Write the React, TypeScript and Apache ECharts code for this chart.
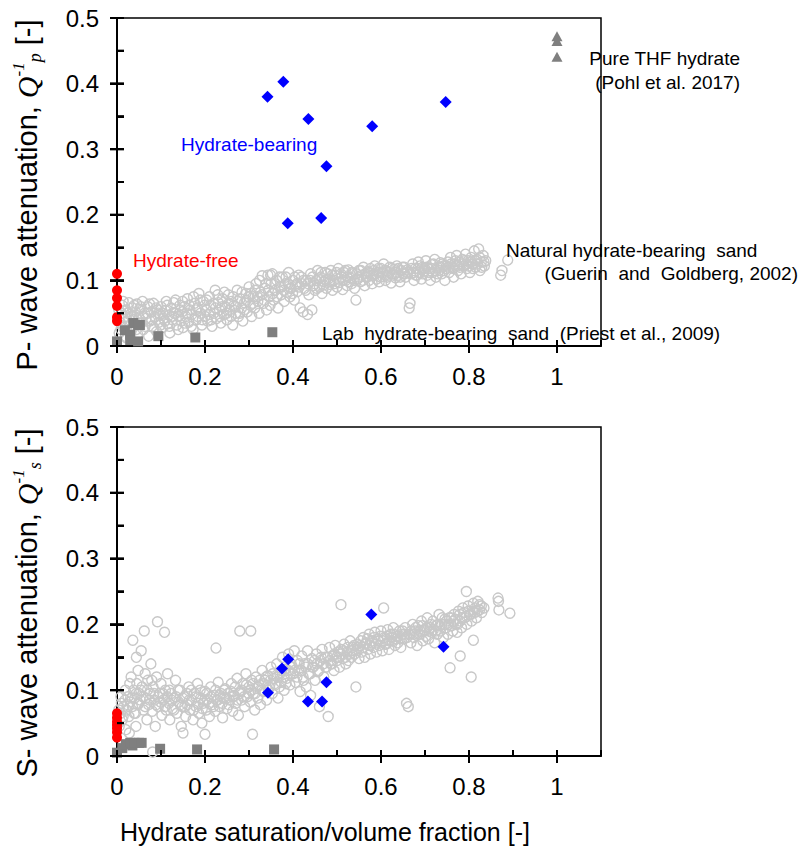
import React, { useEffect, useRef } from 'react';
import * as echarts from 'echarts';

const SANS = 'Liberation Sans, Arial, sans-serif';
const SERIF = 'Liberation Serif, Times New Roman, serif';

// axis settings
const xMin = 0;
const xMax = 1.1;
const yMin = 0;
const yMax = 0.5;
const xMajorTicks = [0, 0.2, 0.4, 0.6, 0.8, 1.0];
const xMinorTicks = [0.1, 0.3, 0.5, 0.7, 0.9];
const yMajorTicks = [0, 0.1, 0.2, 0.3, 0.4, 0.5];
const yMinorTicks = [0.05, 0.15, 0.25, 0.35, 0.45];

// ---------- P-wave (top) ----------
const hydrateBearingP = [
  [0.342, 0.38], [0.378, 0.403], [0.435, 0.346], [0.58, 0.335], [0.747, 0.372],
  [0.476, 0.274], [0.388, 0.187], [0.464, 0.195],
];
const hydrateFreeP = [
  [0, 0.11], [0, 0.085], [0, 0.073], [0, 0.061], [0, 0.044], [0, 0.038],
];
const labP = [
  [0, 0.007], [0.018, 0.024], [0.037, 0.035], [0.048, 0.032], [0.03, 0.017],
  [0.048, 0.007], [0.052, 0.032], [0.03, 0.009], [0.094, 0.015], [0.178, 0.013], [0.353, 0.021],
];
const thfP = [[1.0, 0.465], [1.0, 0.472], [1.0, 0.441]];
const guerinPa = [
  [0.005,0.02],[0.008,0.035],[0.01,0.05],[0.012,0.062],[0.015,0.028],[0.018,0.045],[0.02,0.055],[0.022,0.012],[0.025,0.038],[0.027,0.066],[0.03,0.048],[0.032,0.022],[0.035,0.058],[0.037,0.04],[0.04,0.03],[0.042,0.052],[0.045,0.064],[0.047,0.018],[0.05,0.044],[0.052,0.056],
  [0.055,0.035],[0.058,0.068],[0.06,0.025],[0.063,0.05],[0.066,0.042],[0.07,0.06],[0.072,0.015],[0.075,0.038],[0.078,0.052],[0.08,0.03],[0.083,0.065],[0.086,0.045],[0.09,0.022],[0.092,0.055],[0.095,0.036],[0.098,0.048],[0.1,0.06],[0.103,0.028],[0.106,0.042],[0.11,0.054],[0.112,0.068],[0.115,0.034],[0.118,0.047],[0.12,0.02],[0.123,0.058],[0.126,0.04],[0.13,0.05],[0.133,0.07],[0.136,0.032],[0.14,0.045],[0.143,0.062],[0.146,0.038],[0.148,0.052],
  [0.15,0.028],[0.153,0.06],[0.156,0.045],[0.16,0.072],[0.163,0.036],[0.166,0.055],[0.17,0.048],[0.173,0.025],[0.176,0.065],[0.18,0.04],[0.183,0.058],[0.186,0.08],[0.19,0.05],[0.193,0.032],[0.196,0.068],[0.2,0.045],[0.203,0.055],[0.206,0.038],[0.21,0.075],[0.213,0.062],[0.216,0.03],[0.22,0.05],[0.223,0.085],[0.226,0.042],[0.23,0.066],[0.233,0.055],[0.236,0.035],[0.24,0.072],[0.243,0.048],[0.246,0.06],
  [0.25,0.04],[0.253,0.078],[0.256,0.055],[0.26,0.068],[0.263,0.032],[0.266,0.062],[0.27,0.05],[0.273,0.085],[0.276,0.045],[0.28,0.072],[0.283,0.058],[0.286,0.038],[0.29,0.066],[0.293,0.08],[0.296,0.052],[0.3,0.09],[0.303,0.062],[0.306,0.045],[0.31,0.075],[0.313,0.058],[0.316,0.095],[0.32,0.068],[0.323,0.05],[0.326,0.082],[0.33,0.107],[0.333,0.065],[0.336,0.088],[0.34,0.055],[0.343,0.108],[0.346,0.075],[0.35,0.095],[0.348,0.062],
  [0.353,0.11],[0.356,0.07],[0.36,0.085],[0.363,0.1],[0.366,0.058],[0.37,0.09],[0.373,0.078],[0.376,0.105],[0.38,0.068],[0.383,0.095],[0.386,0.082],[0.39,0.112],[0.393,0.075],[0.396,0.088],[0.4,0.1],[0.403,0.07],[0.406,0.092],[0.41,0.083],[0.413,0.108],[0.416,0.058],[0.42,0.095],[0.423,0.052],[0.426,0.088],[0.43,0.1],[0.433,0.048],[0.436,0.078],[0.44,0.11],[0.443,0.055],[0.446,0.092],[0.45,0.085],
  [0.453,0.1],[0.456,0.115],[0.46,0.09],[0.463,0.105],[0.466,0.08],[0.47,0.098],[0.473,0.112],[0.476,0.088],[0.48,0.102],[0.483,0.094],[0.486,0.115],[0.49,0.085],[0.493,0.1],[0.496,0.108],[0.5,0.09],[0.503,0.118],[0.506,0.097],[0.51,0.105],[0.513,0.086],[0.516,0.112],[0.52,0.1],[0.523,0.092],[0.526,0.116],[0.53,0.104],[0.533,0.095],[0.536,0.11],[0.54,0.088],[0.543,0.07],[0.546,0.102],[0.55,0.115],
  [0.553,0.098],[0.556,0.108],[0.56,0.12],[0.563,0.092],[0.566,0.105],[0.57,0.113],[0.573,0.1],[0.576,0.118],[0.58,0.095],[0.583,0.108],[0.586,0.122],[0.59,0.102],[0.593,0.112],[0.596,0.098],[0.6,0.118],[0.603,0.106],[0.606,0.125],[0.61,0.1],[0.613,0.114],[0.616,0.108],[0.62,0.12],[0.623,0.096],[0.626,0.11],[0.63,0.117],[0.633,0.104],[0.636,0.122],[0.64,0.108],[0.643,0.098],[0.646,0.115],[0.65,0.11],
  [0.653,0.12],[0.656,0.105],[0.66,0.116],[0.664,0.058],[0.666,0.065],[0.668,0.11],[0.672,0.125],[0.675,0.1],[0.678,0.118],[0.682,0.108],[0.685,0.128],[0.688,0.112],[0.692,0.102],[0.695,0.12],[0.698,0.114],[0.702,0.13],[0.705,0.108],[0.708,0.118],[0.712,0.1],[0.715,0.124],[0.718,0.112],[0.722,0.132],[0.725,0.105],[0.728,0.12],[0.732,0.115],[0.735,0.127],[0.738,0.11],[0.742,0.122],[0.745,0.1],[0.748,0.118],
  [0.752,0.128],[0.755,0.112],[0.758,0.135],[0.762,0.12],[0.765,0.105],[0.768,0.125],[0.772,0.138],[0.775,0.115],[0.778,0.128],[0.782,0.11],[0.785,0.132],[0.788,0.122],[0.792,0.14],[0.795,0.118],[0.798,0.13],[0.802,0.112],[0.805,0.135],[0.808,0.125],[0.812,0.145],[0.815,0.12],[0.818,0.132],[0.822,0.148],[0.825,0.115],[0.828,0.128],[0.832,0.138],[0.835,0.122],[0.838,0.13],
  [0.872,0.108],[0.875,0.115],[0.888,0.131],
];
const guerinPb = [
  [0.004,0.055],[0.009,0.025],[0.014,0.068],[0.019,0.015],[0.024,0.05],[0.029,0.03],[0.034,0.045],[0.039,0.062],[0.044,0.025],[0.049,0.035],[0.054,0.06],[0.059,0.045],[0.064,0.03],[0.069,0.05],[0.074,0.064],[0.079,0.04],[0.084,0.028],[0.089,0.058],[0.094,0.05],[0.099,0.032],
  [0.104,0.05],[0.109,0.038],[0.114,0.062],[0.119,0.03],[0.124,0.045],[0.129,0.066],[0.134,0.05],[0.139,0.025],[0.144,0.055],[0.149,0.068],[0.154,0.035],[0.159,0.05],[0.164,0.062],[0.169,0.03],[0.174,0.075],[0.179,0.055],[0.184,0.045],[0.189,0.07],[0.194,0.04],[0.199,0.062],
  [0.204,0.07],[0.209,0.048],[0.214,0.04],[0.219,0.065],[0.224,0.058],[0.229,0.078],[0.234,0.045],[0.239,0.06],[0.244,0.082],[0.249,0.05],[0.254,0.065],[0.259,0.045],[0.264,0.075],[0.269,0.06],[0.274,0.068],[0.279,0.05],[0.284,0.082],[0.289,0.055],[0.294,0.07],[0.299,0.075],
  [0.304,0.08],[0.309,0.065],[0.314,0.085],[0.319,0.075],[0.324,0.1],[0.329,0.078],[0.334,0.07],[0.339,0.095],[0.344,0.085],[0.349,0.108],[0.354,0.08],[0.359,0.095],[0.364,0.075],[0.369,0.105],[0.374,0.09],[0.379,0.085],[0.384,0.105],[0.389,0.095],[0.394,0.088],[0.399,0.08],
  [0.404,0.105],[0.409,0.095],[0.414,0.09],[0.419,0.105],[0.424,0.1],[0.429,0.085],[0.434,0.095],[0.439,0.1],[0.444,0.105],[0.449,0.095],[0.454,0.088],[0.459,0.102],[0.464,0.112],[0.469,0.093],[0.474,0.1],[0.479,0.11],[0.484,0.098],[0.489,0.108],[0.494,0.095],[0.499,0.112],
  [0.504,0.102],[0.509,0.11],[0.514,0.1],[0.519,0.115],[0.524,0.105],[0.529,0.098],[0.534,0.112],[0.539,0.1],[0.544,0.11],[0.549,0.105],[0.554,0.115],[0.559,0.1],[0.564,0.11],[0.569,0.105],[0.574,0.112],[0.579,0.108],[0.584,0.115],[0.589,0.11],[0.594,0.118],[0.599,0.105],
  [0.604,0.112],[0.609,0.115],[0.614,0.105],[0.619,0.112],[0.624,0.118],[0.629,0.108],[0.634,0.112],[0.639,0.118],[0.644,0.105],[0.649,0.12],[0.654,0.11],[0.659,0.112],[0.669,0.118],[0.674,0.112],[0.679,0.108],[0.684,0.118],[0.689,0.122],[0.694,0.11],[0.699,0.118],
  [0.704,0.12],[0.709,0.112],[0.714,0.118],[0.719,0.125],[0.724,0.115],[0.729,0.11],[0.734,0.12],[0.739,0.125],[0.744,0.115],[0.749,0.122],[0.754,0.12],[0.759,0.125],[0.764,0.118],[0.769,0.13],[0.774,0.122],[0.779,0.12],[0.784,0.125],[0.789,0.13],[0.794,0.125],[0.799,0.122],[0.804,0.128],[0.809,0.118],[0.814,0.13],[0.819,0.125],[0.824,0.135],[0.829,0.12],[0.834,0.128],
];

// ---------- S-wave (bottom) ----------
const hydrateBearingS = [
  [0.343, 0.096], [0.375, 0.133], [0.389, 0.147], [0.476, 0.112], [0.434, 0.083],
  [0.466, 0.083], [0.578, 0.215], [0.742, 0.166],
];
const hydrateFreeS = [
  [0, 0.065], [0, 0.058], [0, 0.052], [0, 0.047], [0, 0.042], [0, 0.036], [0, 0.028],
];
const labS = [
  [0, 0.005], [0.012, 0.012], [0.02, 0.018], [0.03, 0.02], [0.035, 0.016], [0.04, 0.02],
  [0.05, 0.02], [0.056, 0.02], [0.098, 0.011], [0.182, 0.01], [0.357, 0.01],
];
const guerinSa = [
  [0.005,0.045],[0.008,0.065],[0.01,0.08],[0.012,0.055],[0.015,0.075],[0.018,0.085],[0.02,0.04],[0.022,0.07],[0.025,0.09],[0.027,0.06],[0.03,0.082],[0.032,0.12],[0.035,0.075],[0.036,0.176],[0.038,0.1],[0.04,0.088],[0.042,0.065],[0.044,0.15],[0.045,0.11],[0.047,0.078],[0.05,0.095],[0.048,0.13],[0.043,0.045],[0.028,0.035],
  [0.053,0.085],[0.055,0.16],[0.057,0.105],[0.06,0.07],[0.062,0.19],[0.064,0.125],[0.066,0.088],[0.068,0.055],[0.07,0.115],[0.072,0.078],[0.075,0.095],[0.077,0.14],[0.08,0.068],[0.081,0.006],[0.082,0.105],[0.085,0.085],[0.087,0.045],[0.09,0.12],[0.092,0.204],[0.094,0.075],[0.097,0.095],[0.1,0.11],[0.102,0.062],[0.105,0.085],[0.108,0.188],[0.11,0.1],[0.112,0.07],[0.115,0.125],[0.118,0.08],[0.12,0.055],[0.123,0.095],[0.126,0.072],[0.13,0.088],[0.133,0.115],[0.136,0.065],[0.14,0.082],[0.143,0.1],[0.146,0.045],[0.15,0.035],[0.148,0.075],
  [0.153,0.09],[0.156,0.06],[0.16,0.078],[0.163,0.105],[0.166,0.07],[0.17,0.085],[0.173,0.055],[0.176,0.095],[0.18,0.075],[0.183,0.11],[0.186,0.065],[0.19,0.088],[0.193,0.05],[0.196,0.08],[0.2,0.098],[0.2,0.033],[0.203,0.07],[0.206,0.086],[0.21,0.06],[0.213,0.105],[0.216,0.078],[0.22,0.092],[0.223,0.068],[0.225,0.164],[0.226,0.085],[0.23,0.112],[0.233,0.075],[0.236,0.095],[0.24,0.058],[0.243,0.088],[0.246,0.102],
  [0.25,0.072],[0.253,0.095],[0.256,0.085],[0.26,0.11],[0.263,0.068],[0.266,0.092],[0.27,0.08],[0.273,0.118],[0.276,0.062],[0.279,0.19],[0.28,0.098],[0.283,0.085],[0.286,0.11],[0.29,0.075],[0.293,0.125],[0.296,0.09],[0.3,0.105],[0.304,0.19],[0.303,0.082],[0.306,0.115],[0.308,0.033],[0.31,0.095],[0.313,0.07],[0.316,0.12],[0.32,0.088],[0.323,0.108],[0.326,0.078],[0.33,0.13],[0.333,0.098],[0.336,0.115],[0.34,0.085],[0.343,0.122],[0.346,0.105],[0.35,0.135],
  [0.353,0.095],[0.356,0.118],[0.36,0.108],[0.363,0.14],[0.366,0.088],[0.37,0.125],[0.373,0.112],[0.376,0.15],[0.38,0.1],[0.383,0.132],[0.386,0.118],[0.39,0.155],[0.393,0.108],[0.396,0.14],[0.4,0.125],[0.403,0.16],[0.406,0.112],[0.41,0.145],[0.413,0.13],[0.416,0.098],[0.42,0.152],[0.423,0.12],[0.426,0.14],[0.43,0.105],[0.433,0.16],[0.436,0.125],[0.44,0.092],[0.443,0.148],[0.446,0.135],[0.45,0.115],
  [0.453,0.155],[0.456,0.128],[0.46,0.075],[0.463,0.145],[0.466,0.162],[0.47,0.12],[0.473,0.15],[0.476,0.135],[0.48,0.06],[0.483,0.165],[0.486,0.14],[0.49,0.152],[0.493,0.13],[0.496,0.168],[0.5,0.145],[0.503,0.158],[0.506,0.135],[0.509,0.23],[0.51,0.162],[0.513,0.148],[0.516,0.17],[0.52,0.14],[0.523,0.158],[0.526,0.145],[0.53,0.175],[0.533,0.15],[0.536,0.165],[0.54,0.155],[0.543,0.105],[0.546,0.17],[0.55,0.148],
  [0.553,0.168],[0.556,0.158],[0.56,0.18],[0.563,0.15],[0.566,0.172],[0.57,0.162],[0.573,0.185],[0.576,0.155],[0.58,0.175],[0.583,0.165],[0.586,0.188],[0.59,0.158],[0.593,0.178],[0.596,0.168],[0.6,0.19],[0.603,0.16],[0.606,0.225],[0.608,0.18],[0.612,0.17],[0.615,0.192],[0.618,0.162],[0.622,0.185],[0.625,0.175],[0.628,0.195],[0.632,0.168],[0.635,0.182],[0.638,0.172],[0.642,0.19],[0.645,0.165],[0.648,0.185],
  [0.652,0.178],[0.655,0.195],[0.658,0.08],[0.662,0.075],[0.665,0.185],[0.668,0.172],[0.672,0.2],[0.675,0.18],[0.678,0.19],[0.682,0.168],[0.685,0.198],[0.688,0.185],[0.692,0.205],[0.695,0.175],[0.698,0.192],[0.702,0.182],[0.705,0.21],[0.708,0.178],[0.712,0.195],[0.715,0.188],[0.718,0.205],[0.722,0.172],[0.725,0.198],[0.728,0.185],[0.732,0.215],[0.735,0.19],[0.738,0.2],[0.742,0.18],[0.745,0.208],[0.748,0.195],
  [0.752,0.185],[0.755,0.21],[0.757,0.134],[0.76,0.198],[0.763,0.19],[0.766,0.215],[0.77,0.2],[0.773,0.188],[0.776,0.22],[0.78,0.152],[0.78,0.205],[0.783,0.195],[0.786,0.225],[0.79,0.21],[0.794,0.25],[0.795,0.2],[0.798,0.228],[0.802,0.215],[0.805,0.12],[0.806,0.205],[0.81,0.176],[0.81,0.232],[0.813,0.218],[0.817,0.21],[0.82,0.235],[0.824,0.222],[0.828,0.228],
  [0.866,0.24],[0.867,0.235],[0.868,0.222],[0.893,0.217],
];
const guerinSb = [
  [0.004,0.07],[0.009,0.09],[0.014,0.06],[0.019,0.1],[0.024,0.078],[0.029,0.11],[0.034,0.088],[0.039,0.065],[0.044,0.095],[0.049,0.08],[0.054,0.1],[0.059,0.09],[0.064,0.075],[0.069,0.1],[0.074,0.085],[0.079,0.115],[0.084,0.095],[0.089,0.078],[0.094,0.09],[0.099,0.082],
  [0.104,0.095],[0.109,0.075],[0.114,0.09],[0.119,0.1],[0.124,0.085],[0.129,0.07],[0.134,0.09],[0.139,0.1],[0.144,0.078],[0.149,0.088],[0.154,0.075],[0.159,0.095],[0.164,0.085],[0.169,0.1],[0.174,0.07],[0.179,0.09],[0.184,0.08],[0.189,0.1],[0.194,0.072],[0.199,0.085],
  [0.204,0.095],[0.209,0.08],[0.214,0.09],[0.219,0.075],[0.224,0.1],[0.229,0.085],[0.234,0.092],[0.239,0.08],[0.244,0.1],[0.249,0.088],[0.254,0.078],[0.259,0.098],[0.264,0.09],[0.269,0.105],[0.274,0.085],[0.279,0.095],[0.284,0.1],[0.289,0.09],[0.294,0.108],[0.299,0.095],
  [0.304,0.1],[0.309,0.11],[0.314,0.095],[0.319,0.105],[0.324,0.115],[0.329,0.1],[0.334,0.11],[0.339,0.12],[0.344,0.1],[0.349,0.115],[0.354,0.125],[0.359,0.11],[0.364,0.12],[0.369,0.105],[0.374,0.13],[0.379,0.12],[0.384,0.11],[0.389,0.13],[0.394,0.125],[0.399,0.135],
  [0.404,0.13],[0.409,0.12],[0.414,0.14],[0.419,0.13],[0.424,0.115],[0.429,0.135],[0.434,0.14],[0.439,0.125],[0.444,0.135],[0.449,0.145],[0.454,0.14],[0.459,0.13],[0.464,0.15],[0.469,0.14],[0.474,0.135],[0.479,0.15],[0.484,0.145],[0.489,0.14],[0.494,0.155],[0.499,0.15],
  [0.504,0.15],[0.509,0.155],[0.514,0.16],[0.519,0.15],[0.524,0.165],[0.529,0.155],[0.534,0.16],[0.539,0.168],[0.544,0.16],[0.549,0.165],[0.554,0.175],[0.559,0.165],[0.564,0.17],[0.569,0.178],[0.574,0.168],[0.579,0.172],[0.584,0.18],[0.589,0.17],[0.594,0.175],[0.599,0.182],
  [0.604,0.175],[0.609,0.17],[0.614,0.182],[0.619,0.175],[0.624,0.18],[0.629,0.185],[0.634,0.178],[0.639,0.182],[0.644,0.178],[0.649,0.19],[0.654,0.185],[0.659,0.18],[0.669,0.19],[0.674,0.185],[0.679,0.195],[0.684,0.185],[0.689,0.19],[0.694,0.198],[0.699,0.19],
  [0.704,0.195],[0.709,0.19],[0.714,0.2],[0.719,0.192],[0.724,0.19],[0.729,0.2],[0.734,0.198],[0.739,0.21],[0.744,0.2],[0.749,0.205],[0.754,0.2],[0.759,0.21],[0.764,0.205],[0.769,0.208],[0.774,0.2],[0.779,0.215],[0.784,0.21],[0.789,0.218],[0.794,0.212],[0.799,0.22],[0.804,0.215],[0.809,0.22],[0.814,0.225],[0.819,0.22],[0.824,0.23],[0.829,0.218],[0.834,0.225],
];

const guerinP = [...guerinPa, ...guerinPb];
const guerinS = [...guerinSa, ...guerinSb];

const xLabelFmt = (v: number) => {
  const k = Math.round(v * 10);
  if (k % 2 !== 0 || k > 10) return '';
  return String(k / 10);
};
const yLabelFmt = (v: number) => {
  const k = Math.round(v * 20);
  if (k % 2 !== 0) return '';
  return String(k / 20);
};

const tickLine = { color: '#000', width: 2 };

function makeX(gridIndex: number) {
  return {
    type: 'value', gridIndex, min: xMin, max: xMax, interval: 0.1, position: 'bottom', splitLine: { show: false },
    axisLine: { show: true, onZero: false, lineStyle: { color: '#000', width: 2 } },
    axisTick: { show: true, inside: true, length: 6, lineStyle: tickLine },
    axisLabel: { show: true, margin: 18, fontSize: 24, color: '#000', fontFamily: SANS, formatter: xLabelFmt },
  };
}

function makeY(gridIndex: number) {
  return [
    {
      type: 'value', gridIndex, min: yMin, max: yMax, interval: 0.05, position: 'left', splitLine: { show: false },
      axisLine: { show: true, onZero: false, lineStyle: { color: '#000', width: 2 } },
      axisTick: { show: true, inside: true, length: 7, lineStyle: tickLine },
      axisLabel: { show: true, margin: 18, fontSize: 24, color: '#000', fontFamily: SANS, formatter: yLabelFmt },
    },
    {
      type: 'value', gridIndex, min: yMin, max: yMax, interval: 0.1, position: 'left', splitLine: { show: false },
      axisLine: { show: false, onZero: false },
      axisTick: { show: true, inside: false, length: 7, lineStyle: tickLine },
      axisLabel: { show: false },
    },
  ];
}

// tick marks as thin rect symbols placed at tick values through the axes
const TW = 2;
const tickItems = [
  ...xMajorTicks.map((v) => ({ value: [v, yMin], symbolSize: [TW, 13], symbolOffset: [0, 0.5] })),
  ...xMinorTicks.map((v) => ({ value: [v, yMin], symbolSize: [TW, 6], symbolOffset: [0, -3] })),
  ...yMajorTicks.map((v) => ({ value: [xMin, v], symbolSize: [14, TW], symbolOffset: [0, 0] })),
  ...yMinorTicks.map((v) => ({ value: [xMin, v], symbolSize: [7, TW], symbolOffset: [3.5, 0] })),
];

function panelSeries(xi: number, yi: number, guerin: number[][], lab: number[][], free: number[][], bearing: number[][], thf?: number[][]) {
  const s: any[] = [
    {
      type: 'scatter', xAxisIndex: xi, yAxisIndex: yi, data: guerin, symbol: 'circle', symbolSize: 10,
      itemStyle: { color: 'rgba(0,0,0,0)', borderColor: '#c8c8c8', borderWidth: 1.4, opacity: 1 }, z: 2,
    },
    {
      type: 'scatter', xAxisIndex: xi, yAxisIndex: yi, data: lab, symbol: 'rect', symbolSize: 10,
      itemStyle: { color: '#7f7f7f', opacity: 1 }, z: 3,
    },
    {
      type: 'scatter', xAxisIndex: xi, yAxisIndex: yi, data: free, symbol: 'circle', symbolSize: 10,
      itemStyle: { color: '#ff0000', opacity: 1 }, z: 4,
    },
    {
      type: 'scatter', xAxisIndex: xi, yAxisIndex: yi, data: bearing, symbol: 'diamond', symbolSize: 12,
      itemStyle: { color: '#0000ff', opacity: 1 }, z: 5,
    },
    {
      type: 'scatter', xAxisIndex: xi, yAxisIndex: yi, data: tickItems.map((t) => ({ ...t, value: [...t.value] })),
      symbol: 'rect', silent: true, clip: false, z: 6,
      itemStyle: { color: '#000', opacity: 1 },
    },
  ];
  if (thf) {
    s.push({
      type: 'scatter', xAxisIndex: xi, yAxisIndex: yi, data: thf, symbol: 'triangle', symbolSize: [11, 10],
      itemStyle: { color: '#7f7f7f', opacity: 1 }, z: 5,
    });
  }
  return s;
}

function yTitle(letter: string, sub: string, cy: number) {
  return {
    type: 'text', x: 27, y: cy, rotation: Math.PI / 2, z: 10,
    style: {
      text: `{a|${letter}- wave attenuation, }{q|Q}{sup|-1}{sub|${sub}}{a| [-]}`,
      align: 'center', verticalAlign: 'middle',
      rich: {
        a: { fontFamily: SANS, fontSize: 29, fill: '#000', lineHeight: 34, verticalAlign: 'middle' },
        q: { fontFamily: SERIF, fontStyle: 'italic', fontSize: 30, fill: '#000', lineHeight: 34, verticalAlign: 'middle' },
        sup: { fontFamily: SERIF, fontStyle: 'italic', fontSize: 17, fill: '#000', lineHeight: 17, verticalAlign: 'top' },
        sub: { fontFamily: SERIF, fontStyle: 'italic', fontSize: 18, fill: '#000', lineHeight: 18, verticalAlign: 'bottom' },
      },
    },
  };
}

function txt(text: string, x: number, y: number, color: string, align = 'left') {
  return {
    type: 'text', x, y, z: 10,
    style: { text, fill: color, fontFamily: SANS, fontSize: 19, align, verticalAlign: 'middle' },
  };
}

function tickRect(x: number, y: number, width: number, height: number) {
  return { type: 'rect', z: 20, silent: true, shape: { x, y, width, height }, style: { fill: '#000' } };
}

export default function App() {
  const ref = useRef<HTMLDivElement>(null);
  useEffect(() => {
    document.body.style.margin = '0';
    if (!ref.current) return;
    const chart = echarts.init(ref.current, null, { renderer: 'svg' });
    const option: any = {
      animation: false,
      backgroundColor: '#fff',
      grid: [
        { left: 117, top: 18, width: 484, height: 328, show: true, borderColor: '#000', borderWidth: 1.5 },
        { left: 117, top: 427, width: 484, height: 329, show: true, borderColor: '#000', borderWidth: 1.5 },
      ],
      xAxis: [makeX(0), makeX(1)],
      yAxis: [...makeY(0), ...makeY(1)],
      series: [
        ...panelSeries(0, 0, guerinP, labP, hydrateFreeP, hydrateBearingP, thfP),
        ...panelSeries(1, 2, guerinS, labS, hydrateFreeS, hydrateBearingS),
      ],
    };
    chart.setOption(option);

    // tick marks: positions from the chart's own scales (convertToPixel on each panel's axes)
    const ticks: any[] = [];
    [0, 1].forEach((g) => {
      const px = (v: number[]) => {
        try {
          const r = chart.convertToPixel({ xAxisIndex: g, yAxisIndex: g * 2 } as any, v) as any;
          return Array.isArray(r) && isFinite(r[0]) && isFinite(r[1]) ? r : null;
        } catch (e) {
          return null;
        }
      };
      xMajorTicks.forEach((v) => { const p = px([v, yMin]); if (p) ticks.push(tickRect(p[0] - TW / 2, p[1] - 6, TW, 13)); });
      xMinorTicks.forEach((v) => { const p = px([v, yMin]); if (p) ticks.push(tickRect(p[0] - TW / 2, p[1] - 6, TW, 6)); });
      yMajorTicks.forEach((v) => { const p = px([xMin, v]); if (p) ticks.push(tickRect(p[0] - 7, p[1] - TW / 2, 14, TW)); });
      yMinorTicks.forEach((v) => { const p = px([xMin, v]); if (p) ticks.push(tickRect(p[0], p[1] - TW / 2, 7, TW)); });
    });

    chart.setOption({
      graphic: [
        yTitle('P', 'p', 195),
        yTitle('S', 's', 603),
        {
          type: 'text', x: 120, y: 832, z: 10,
          style: { text: 'Hydrate saturation/volume fraction [-]', fill: '#000', fontFamily: SANS, fontSize: 25, align: 'left', verticalAlign: 'middle' },
        },
        txt('Hydrate-bearing', 181, 144, '#0000ff'),
        txt('Hydrate-free', 133, 260, '#ff0000'),
        txt('Pure THF hydrate', 740, 58, '#000', 'right'),
        txt('(Pohl et al. 2017)', 740, 82, '#000', 'right'),
        txt('Natural hydrate-bearing  sand', 506, 250, '#000'),
        txt('(Guerin  and  Goldberg, 2002)', 798, 273, '#000', 'right'),
        txt('Lab  hydrate-bearing  sand  (Priest et al., 2009)', 322, 333, '#000'),
        ...ticks,
      ],
    });
    return () => chart.dispose();
  }, []);
  return <div ref={ref} style={{ width: 803, height: 852 }} />;
}
